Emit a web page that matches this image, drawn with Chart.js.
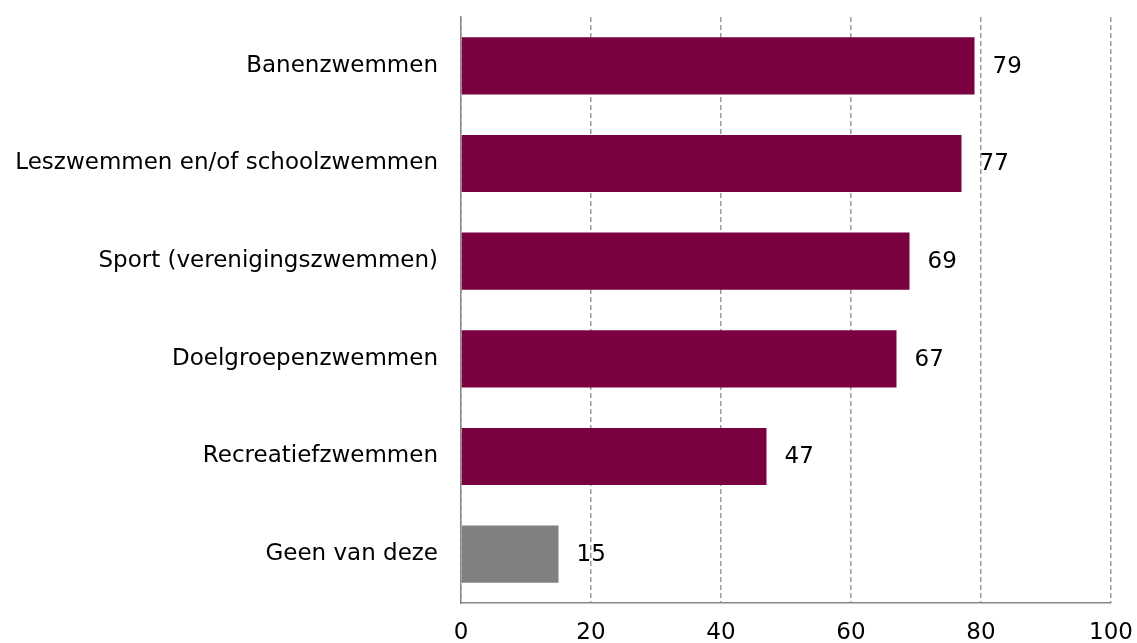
<!doctype html>
<html>
<head>
<title>Zwemactiviteiten</title>
<script src="https://cdn.jsdelivr.net/npm/chart.js@4.4.0/dist/chart.umd.min.js"></script>
<style>
	html, body { margin: 0; padding: 0; background: #fff; }
	#wrap { width: 1137px; height: 643px; }
</style>
</head>
<body>
<div id="wrap"><canvas id="canvas"></canvas></div>
<script>
	const categories = [
		"Banenzwemmen",
		"Leszwemmen en/of schoolzwemmen",
		"Sport (verenigingszwemmen)",
		"Doelgroepenzwemmen",
		"Recreatiefzwemmen",
		"Geen van deze"
	];
	const values = [79, 77, 69, 67, 47, 15];
	const barColors = ["#7b003f", "#7b003f", "#7b003f", "#7b003f", "#7b003f", "#808080"];
	const xTicks = [0, 20, 40, 60, 80, 100];

	const FONT = "DejaVu Sans";
	const FSIZE = 23;

	// value labels to the right of each bar
	const valueLabels = {
		id: "valueLabels",
		afterDatasetsDraw(chart) {
			const ctx = chart.ctx;
			const meta = chart.getDatasetMeta(0);
			ctx.save();
			ctx.fillStyle = "#000";
			ctx.font = FSIZE + "px '" + FONT + "'";
			ctx.textBaseline = "middle";
			ctx.textAlign = "left";
			meta.data.forEach((bar, i) => {
				ctx.fillText(String(values[i]), bar.x + 18, bar.y + 1);
			});
			ctx.restore();
		}
	};

	new Chart(document.getElementById("canvas"), {
		type: "bar",
		data: {
			labels: categories,
			datasets: [{
				data: values,
				backgroundColor: barColors,
				barPercentage: 0.585,
				categoryPercentage: 1
			}]
		},
		options: {
			indexAxis: "y",
			responsive: true,
			maintainAspectRatio: false,
			animation: false,
			layout: { padding: { top: 17, right: 26, left: 0, bottom: 0 } },
			plugins: { legend: { display: false }, tooltip: { enabled: false } },
			scales: {
				x: {
					min: 0,
					max: 100,
					afterBuildTicks(scale) { scale.ticks = xTicks.map(v => ({ value: v })); },
					afterFit(scale) {
						scale.height = 40;
						scale.paddingLeft = 0;
						scale.paddingRight = 0;
					},
					grid: {
						color: "#999",
						lineWidth: 1.5,
						drawTicks: false
					},
					border: { display: true, color: "#888", width: 1.5, dash: [5, 3] },
					ticks: {
						color: "#000",
						padding: 16,
						font: { family: FONT, size: FSIZE }
					}
				},
				y: {
					afterFit(scale) {
						scale.width = 461;
						scale.paddingTop = 0;
						scale.paddingBottom = 0;
					},
					grid: { display: false, drawTicks: false },
					border: { display: true, color: "#888", width: 1.5 },
					ticks: {
						color: "#000",
						padding: 23,
						font: { family: FONT, size: FSIZE }
					}
				}
			}
		},
		plugins: [valueLabels]
	});
</script>
</body>
</html>
